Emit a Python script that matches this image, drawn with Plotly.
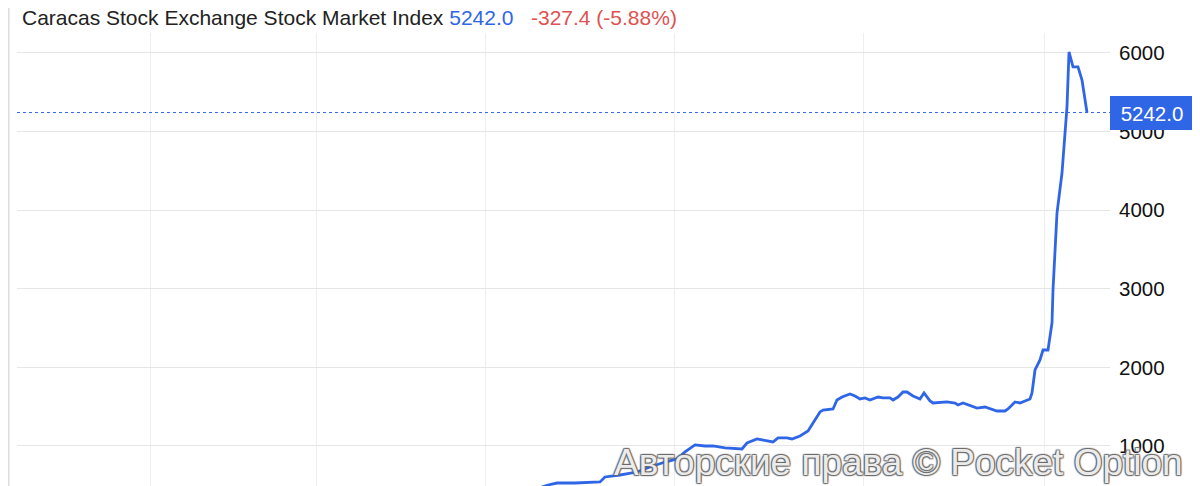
import plotly.graph_objects as go

# ---- data ----
t = [540, 548, 557, 575, 600, 605, 620, 637, 650, 665, 677, 685, 695, 705, 713, 725,
     742, 747, 757, 763, 770, 773, 778, 787, 792, 800, 808, 813, 820, 823, 833, 837,
     842, 850, 855, 860, 865, 870, 878, 883, 890, 893, 898, 903, 907, 913, 918, 920,
     924, 930, 933, 943, 947, 955, 958, 963, 973, 977, 985, 997, 1005, 1008, 1015,
     1020, 1025, 1030, 1032, 1035, 1040, 1043, 1048, 1052, 1053, 1057, 1062, 1065,
     1067, 1069, 1073, 1078, 1082, 1087]
index_values = [470, 504, 529, 529, 542, 606, 631, 669, 733, 796, 835, 924, 1013, 1000, 1000, 975,
                962, 1038, 1089, 1076, 1051, 1051, 1102, 1102, 1089, 1127, 1191, 1293, 1433, 1458, 1471, 1585,
                1623, 1662, 1636, 1598, 1611, 1585, 1623, 1611, 1611, 1585, 1623, 1687, 1687, 1636, 1611, 1598,
                1674, 1573, 1547, 1560, 1560, 1547, 1522, 1547, 1496, 1483, 1496, 1445, 1445, 1471, 1560,
                1547, 1573, 1598, 1674, 1967, 2094, 2221, 2221, 2565, 2985, 3964, 4473, 5059,
                5313, 6013, 5822, 5822, 5656, 5242]
x_grid = [150, 316, 485, 674, 863, 1044]
y_ticks = [1000, 2000, 3000, 4000, 5000, 6000]
last_value = 5242.0
change = -327.4
change_pct = -5.88
title = "Caracas Stock Exchange Stock Market Index"
watermark = "Авторские права © Pocket Option"

BLUE = "#2f66e6"
RED = "#e05252"
FONT = "Liberation Sans, Arial, Helvetica, sans-serif"

W, H = 1192, 478          # page body has an 8px margin
ML, MR, MT, MB = 9, 90, 25, 0
PW = W - ML - MR

fig = go.Figure()
fig.add_trace(go.Scatter(x=t, y=index_values, mode="lines",
                         line=dict(color=BLUE, width=2.8), hoverinfo="skip"))

fig.update_layout(
    width=W, height=H,
    margin=dict(l=ML, r=MR, t=MT, b=MB, autoexpand=False),
    paper_bgcolor="white", plot_bgcolor="white",
    showlegend=False,
    font=dict(family=FONT, color="#222222"),
    xaxis=dict(range=[17, 1110], tickmode="array", tickvals=x_grid, showticklabels=False,
               showgrid=True, gridcolor="#efeff2", gridwidth=1, zeroline=False,
               showline=False, fixedrange=True),
    yaxis=dict(range=[491, 6254], side="right", tickmode="array", tickvals=y_ticks,
               ticktext=[str(v) for v in y_ticks], showgrid=True, gridcolor="#e6e6e6",
               gridwidth=1, zeroline=False, showline=False, ticks="",
               ticklabelstandoff=8, tickfont=dict(size=20.5, color="#111111", family=FONT)),
)

# dotted last-value line
fig.add_shape(type="line", xref="paper", x0=0, x1=1, yref="y", y0=last_value, y1=last_value,
              line=dict(color=BLUE, width=1, dash="dot"))
# left container border
bx = (0.8 - ML) / PW
fig.add_shape(type="line", xref="paper", x0=bx, x1=bx, yref="paper", y0=-0.01, y1=1.06,
              line=dict(color="#dcdcdc", width=1.5))

# last value label
fig.add_annotation(xref="paper", x=1.0, yref="y", y=last_value, xanchor="left", yanchor="middle",
                   text=f"{last_value:.1f}", showarrow=False,
                   font=dict(size=20.5, color="white", family=FONT),
                   bgcolor=BLUE, borderpad=7, borderwidth=0, width=70, height=20)

# title
fig.add_annotation(xref="paper", yref="paper", x=3 / PW, y=1.0, yshift=16,
                   xanchor="left", yanchor="middle", showarrow=False,
                   text=(f"<span style='color:#222222'>{title}</span> "
                         f"<span style='color:{BLUE}'>{last_value:.1f}</span>"
                         f"&nbsp;&nbsp; <span style='color:{RED}'>{change:.1f} ({change_pct:.2f}%)</span>"),
                   font=dict(size=21, family=FONT))

# watermark
fig.add_annotation(xref="paper", yref="paper", x=(1177 - ML) / PW, y=0, yshift=24,
                   xanchor="right", yanchor="middle", showarrow=False,
                   text=watermark,
                   font=dict(size=37, color="rgba(255,255,255,0.9)", family=FONT,
                             shadow="1px 1px 1px #666, -1px -1px 1px #666, 1px -1px 1px #666, -1px 1px 1px #666"))

fig.write_html("out.html")
